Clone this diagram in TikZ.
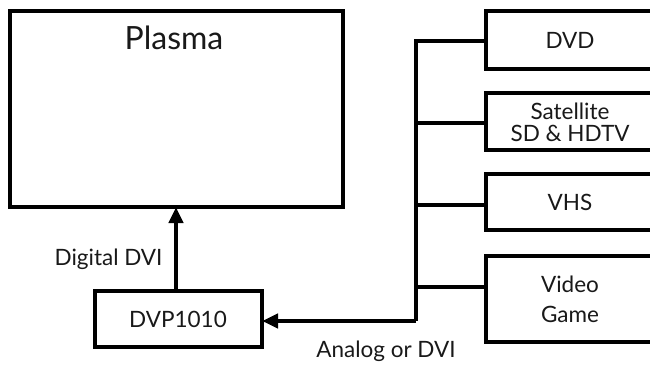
\documentclass[tikz,border=0pt]{standalone}
\usepackage{fontspec}
\setmainfont{Lato}
\usetikzlibrary{arrows.meta}
\begin{document}
\begin{tikzpicture}[x=1pt,y=-1pt,
  box/.style={draw=black,line width=4pt,fill=white},
  wire/.style={draw=black,line width=4pt},
  arr/.style={wire,-{Triangle[length=16pt,width=14pt]}},
  lbl/.style={font=\fontsize{22.5}{24}\selectfont,text=black!90},
  big/.style={font=\fontsize{32}{34}\selectfont,text=black!90}]
\useasboundingbox (0,0) rectangle (650,364);
\clip (0,0) rectangle (650,364);
% boxes
\draw[box] (10,11) rectangle (343,207);
\node[big,anchor=base] (plasmat) at (174,49) {Plasma};
\coordinate (plasmab) at (176,207);
\draw[box] (95,291) rectangle (262,347);
\node[lbl] (dvp) at (178,319) {DVP1010};
\coordinate (dvpt) at (176,291);
\coordinate (dvpr) at (262,321);
% right boxes
\draw[box] (486,11) rectangle (660,69);
\node[lbl] (dvd) at (570,40) {DVD};
\draw[box] (486,93) rectangle (660,150);
\node[lbl,align=center,font=\fontsize{22.5}{22}\selectfont] (sat) at (570,122) {Satellite\\SD \& HDTV};
\draw[box] (486,174) rectangle (660,230);
\node[lbl] (vhs) at (570,202) {VHS};
\draw[box] (486,256) rectangle (660,342);
\node[lbl,align=center,font=\fontsize{22.5}{30}\selectfont] (game) at (570,299) {Video\\Game};
% bus
\coordinate (b1) at (416,41);
\coordinate (b2) at (416,123);
\coordinate (b3) at (416,205);
\coordinate (b4) at (416,287);
\coordinate (b5) at (416,321);
\draw[wire,line join=miter] (486,41) -- (b1) -- (b5);
\draw[wire] (b2) -- (486,123);
\draw[wire] (b3) -- (486,205);
\draw[wire] (b4) -- (486,287);
\draw[arr] (b5) -- (dvpr);
\draw[arr] (dvpt) -- (plasmab);
% labels
\node[lbl,anchor=base east] (dig) at (166,265) {Digital DVI};
\node[lbl,anchor=base] (ana) at (386,357) {Analog or DVI};
\end{tikzpicture}
\end{document}
